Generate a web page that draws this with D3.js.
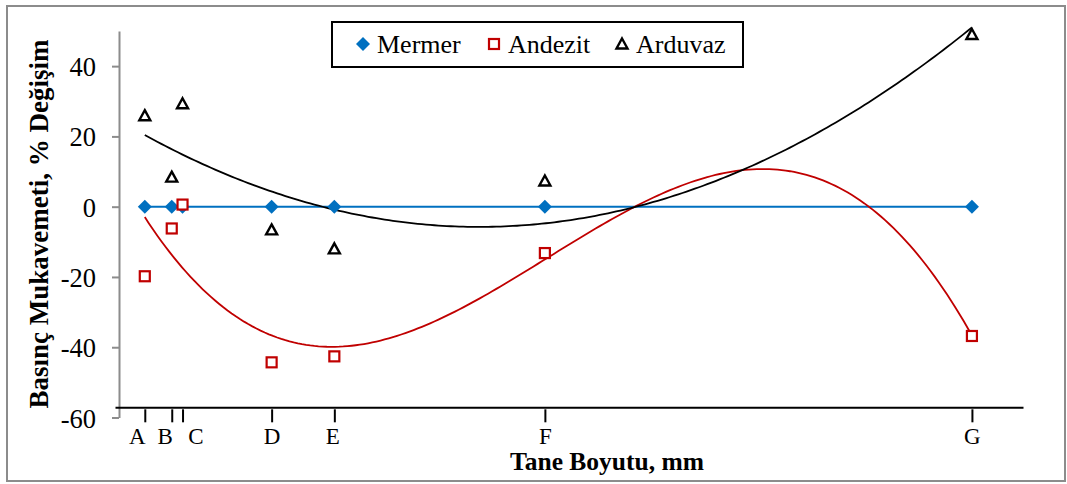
<!DOCTYPE html>
<html>
<head>
<meta charset="utf-8">
<script src="https://cdn.jsdelivr.net/npm/d3@7"></script>
<style>
  body { margin: 0; background: #fff; }
  svg text { font-family: "Liberation Serif", "Times New Roman", serif; fill: #000; }
</style>
</head>
<body>
<div id="chart"></div>
<script>
// grain size categories and their position on the size axis
const categories = ['A', 'B', 'C', 'D', 'E', 'F', 'G'];
const grainSize = [1.05, 2.0, 2.38, 5.52, 7.73, 15.15, 30.2];

// % change in compressive strength
const mermer = [0, 0, 0, 0, 0, 0, 0];
const andezit = [-19.8, -6.2, 0.6, -44.3, -42.6, -13.2, -36.8];
const arduvaz = [25.9, 8.4, 29.3, -6.6, -12.0, 7.3, 49.0];

const yTicks = [-60, -40, -20, 0, 20, 40];
const labelNudge = [-8, -7, 13, 0, -2, 0, 0]; // category labels are shifted by hand in the original

const series = [
  { name: 'Mermer', values: mermer, color: '#0070C0', symbol: 'diamond', order: 1 },
  { name: 'Andezit', values: andezit, color: '#C00000', symbol: 'square', order: 3 },
  { name: 'Arduvaz', values: arduvaz, color: '#000000', symbol: 'triangle', order: 2 }
];

// least squares polynomial fit (same as a spreadsheet trendline)
function polyFit(xs, ys, order) {
  const n = order + 1;
  const A = [];
  for (let r = 0; r < n; r++) {
    A.push([]);
    for (let c = 0; c < n; c++) A[r].push(d3.sum(xs, x => Math.pow(x, r + c)));
    A[r].push(d3.sum(xs, (x, i) => ys[i] * Math.pow(x, r)));
  }
  for (let i = 0; i < n; i++) {
    let p = i;
    for (let k = i + 1; k < n; k++) if (Math.abs(A[k][i]) > Math.abs(A[p][i])) p = k;
    [A[i], A[p]] = [A[p], A[i]];
    for (let k = i + 1; k < n; k++) {
      const f = A[k][i] / A[i][i];
      for (let c = i; c <= n; c++) A[k][c] -= f * A[i][c];
    }
  }
  const coef = new Array(n).fill(0);
  for (let i = n - 1; i >= 0; i--) {
    let s = A[i][n];
    for (let c = i + 1; c < n; c++) s -= A[i][c] * coef[c];
    coef[i] = s / A[i][i];
  }
  return x => d3.sum(coef, (a, i) => a * Math.pow(x, i));
}

const serif = '"Liberation Serif", "Times New Roman", serif';
const W = 1067, H = 484;
const svg = d3.select('#chart').append('svg').attr('width', W).attr('height', H);

// outer frame
svg.append('rect')
  .attr('x', 7).attr('y', 6).attr('width', 1058).attr('height', 475)
  .attr('fill', '#fff').attr('stroke', '#8c8c8c').attr('stroke-width', 2);

const x = d3.scaleLinear().domain([0, 32]).range([115, 1023]);
const y = d3.scaleLinear().domain([-60, 50]).range([417.5, 31]);
const axisY = -57.1; // category axis crosses here

// y axis
const yAxis = svg.append('g')
  .attr('transform', `translate(${x(0) + 4},0)`)
  .call(d3.axisLeft(y).tickValues(yTicks).tickSize(7).tickPadding(16).tickSizeOuter(0)
    .tickFormat(d => (d < 0 ? '-' : '') + Math.abs(d)));
yAxis.select('.domain').attr('stroke', '#8c8c8c').attr('stroke-width', 2);
yAxis.selectAll('.tick line').attr('stroke', '#8c8c8c').attr('stroke-width', 2);
yAxis.selectAll('.tick text').attr('font-size', 26.5).attr('fill', '#000')
  .style('font-family', serif)
  .attr('dy', '0.36em');

// category axis
const xAxis = svg.append('g')
  .attr('transform', `translate(0,${y(axisY)})`)
  .call(d3.axisBottom(x).tickValues(grainSize).tickSize(14).tickSizeOuter(0)
    .tickFormat((d, i) => categories[i]));
xAxis.select('.domain').attr('stroke', '#000').attr('stroke-width', 2);
xAxis.selectAll('.tick line').attr('stroke', '#000').attr('stroke-width', 2)
  .attr('y1', 2).attr('y2', 15);
xAxis.selectAll('.tick text').attr('font-size', 23).attr('fill', '#000')
  .style('font-family', serif)
  .attr('y', 37).attr('dy', 0)
  .attr('dx', (d, i) => labelNudge[i]);

// axis titles
svg.append('text')
  .attr('transform', `translate(48,${(40 + 408) / 2}) rotate(-90)`)
  .attr('text-anchor', 'middle')
  .attr('font-size', 27).attr('font-weight', 'bold')
  .style('font-family', serif)
  .text('Basınç Mukavemeti, % Değişim');

svg.append('text')
  .attr('x', 607).attr('y', 470)
  .attr('text-anchor', 'middle')
  .attr('font-size', 25.5).attr('font-weight', 'bold')
  .style('font-family', serif)
  .text('Tane Boyutu, mm');

// trendlines
const xs = d3.range(0, 201).map(i => grainSize[0] + (grainSize[6] - grainSize[0]) * i / 200);
const line = d3.line().x(d => x(d[0])).y(d => y(d[1]));
series.forEach(s => {
  const f = polyFit(grainSize, s.values, s.order);
  svg.append('path')
    .datum(xs.map(v => [v, f(v)]))
    .attr('fill', 'none')
    .attr('stroke', s.color)
    .attr('stroke-width', s.symbol === 'diamond' ? 2 : 1.8)
    .attr('d', line);
});

// markers
function drawMarker(g, symbol, color) {
  if (symbol === 'diamond') {
    g.append('path').attr('d', 'M0,-7L7,0L0,7L-7,0Z').attr('fill', color);
  } else if (symbol === 'square') {
    g.append('rect').attr('x', -5).attr('y', -5).attr('width', 10).attr('height', 10)
      .attr('fill', '#fff').attr('stroke', color).attr('stroke-width', 2.2);
  } else {
    g.append('path').attr('d', 'M0,-5.5L5.5,4.5L-5.5,4.5Z')
      .attr('fill', '#fff').attr('stroke', color).attr('stroke-width', 2.4)
      .attr('stroke-linejoin', 'miter');
  }
}

[series[0], series[2], series[1]].forEach(s => {
  svg.append('g').selectAll('g')
    .data(s.values.map((v, i) => [grainSize[i], v]))
    .join('g')
    .attr('transform', d => `translate(${x(d[0])},${y(d[1])})`)
    .each(function () { drawMarker(d3.select(this), s.symbol, s.color); });
});

// legend
const legend = svg.append('g');
legend.append('rect')
  .attr('x', 332).attr('y', 22).attr('width', 411).attr('height', 45)
  .attr('fill', '#fff').attr('stroke', '#000').attr('stroke-width', 2);
const legendX = [363, 494, 622];
series.forEach((s, i) => {
  const g = legend.append('g').attr('transform', `translate(${legendX[i]},44)`);
  drawMarker(g, s.symbol, s.color);
  legend.append('text')
    .attr('x', legendX[i] + 14).attr('y', 53)
    .attr('font-size', 26)
    .style('font-family', serif)
    .text(s.name);
});
</script>
</body>
</html>
